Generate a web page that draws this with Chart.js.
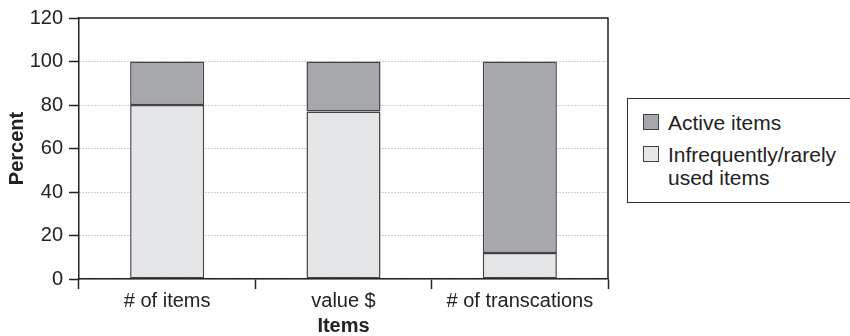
<!DOCTYPE html>
<html>
<head>
<meta charset="utf-8">
<script src="https://cdn.jsdelivr.net/npm/chart.js@4"></script>
<style>
  body { margin: 0; background: #fff; }
  #wrap { position: relative; width: 850px; height: 336px; font-family: "Liberation Sans", Arial, sans-serif; color: #222; }
  #legend { position: absolute; left: 627px; top: 98px; width: 240px; height: 105px; border: 1.5px solid #333; background: #fff; box-sizing: border-box; }
  .sw { position: absolute; width: 16px; height: 16px; border: 1.5px solid #444; box-sizing: border-box; }
  .lbl { position: absolute; font-size: 21px; line-height: 23px; white-space: nowrap; }
</style>
</head>
<body>
<div id="wrap">
  <canvas id="barChart" width="850" height="336"></canvas>
  <div id="legend"></div>
</div>
<script>
var categories = ['# of items', 'value $', '# of transcations'];
var activeItems = [20, 23, 88];
var rareItems = [80, 77, 12];
var seriesNames = ['Active items', 'Infrequently/rarely used items'];
var legendLines = [['Active items'], ['Infrequently/rarely', 'used items']];
var colors = ['#a7a8ab', '#e5e6e8'];

var font = '"Liberation Sans", Arial, sans-serif';

// legend box on the right
var legend = document.getElementById('legend');
var rowTops = [14, 46];
legendLines.forEach(function(lines, i) {
  var sw = document.createElement('div');
  sw.className = 'sw';
  sw.style.left = '15px';
  sw.style.top = (rowTops[i] + 1) + 'px';
  sw.style.background = colors[i];
  legend.appendChild(sw);
  var lbl = document.createElement('div');
  lbl.className = 'lbl';
  lbl.style.left = '40px';
  lbl.style.top = (rowTops[i] - 2) + 'px';
  lbl.innerHTML = lines.join('<br>');
  legend.appendChild(lbl);
});

// top and right edges of the plot frame
var frame = {
  id: 'frame',
  afterDatasetsDraw: function(chart) {
    var a = chart.chartArea, c = chart.ctx;
    c.save();
    c.strokeStyle = '#222';
    c.lineWidth = 1.5;
    c.beginPath();
    c.moveTo(a.left, a.top);
    c.lineTo(a.right, a.top);
    c.lineTo(a.right, a.bottom);
    c.stroke();
    c.restore();
  }
};

var ctx = document.getElementById('barChart').getContext('2d');
var chart = new Chart(ctx, {
  type: 'bar',
  data: {
    labels: categories,
    datasets: [{
      label: seriesNames[1],
      data: rareItems,
      backgroundColor: colors[1],
      borderColor: '#444',
      borderWidth: 1.5,
      borderSkipped: false
    }, {
      label: seriesNames[0],
      data: activeItems,
      backgroundColor: colors[0],
      borderColor: '#444',
      borderWidth: 1.5,
      borderSkipped: false
    }]
  },
  options: {
    responsive: false,
    animation: false,
    categoryPercentage: 1,
    barPercentage: 0.42,
    layout: { padding: { left: 0, top: 17, right: 242, bottom: 0 } },
    plugins: { legend: { display: false }, tooltip: { enabled: false } },
    scales: {
      x: {
        stacked: true,
        offset: true,
        afterFit: function(s) { s.height = 57; },
        grid: { offset: true, drawOnChartArea: false, tickLength: 10, tickColor: '#222', tickWidth: 1.5 },
        border: { color: '#222', width: 1.5 },
        ticks: { color: '#222', padding: 0, font: { family: font, size: 20 } },
        title: { display: true, text: 'Items', color: '#222', padding: { top: 0, bottom: 0 }, font: { family: font, size: 20, weight: 'bold', lineHeight: 1 } }
      },
      y: {
        stacked: true,
        min: 0,
        max: 120,
        afterFit: function(s) { s.width = 79; },
        grid: {
          color: '#a0a0a0',
          lineWidth: 1,
          tickBorderDash: [],
          tickColor: '#222',
          tickWidth: 1.5,
          tickLength: 10
        },
        // in v4 the dash of the grid lines lives under border
        border: { color: '#222', width: 1.5, dash: [1, 2] },
        ticks: { stepSize: 20, color: '#222', padding: 6, font: { family: font, size: 20 } },
        title: { display: true, text: 'Percent', color: '#222', padding: { top: 5, bottom: 0 }, font: { family: font, size: 20, weight: 'bold' } }
      }
    }
  },
  plugins: [frame]
});
</script>
</body>
</html>
